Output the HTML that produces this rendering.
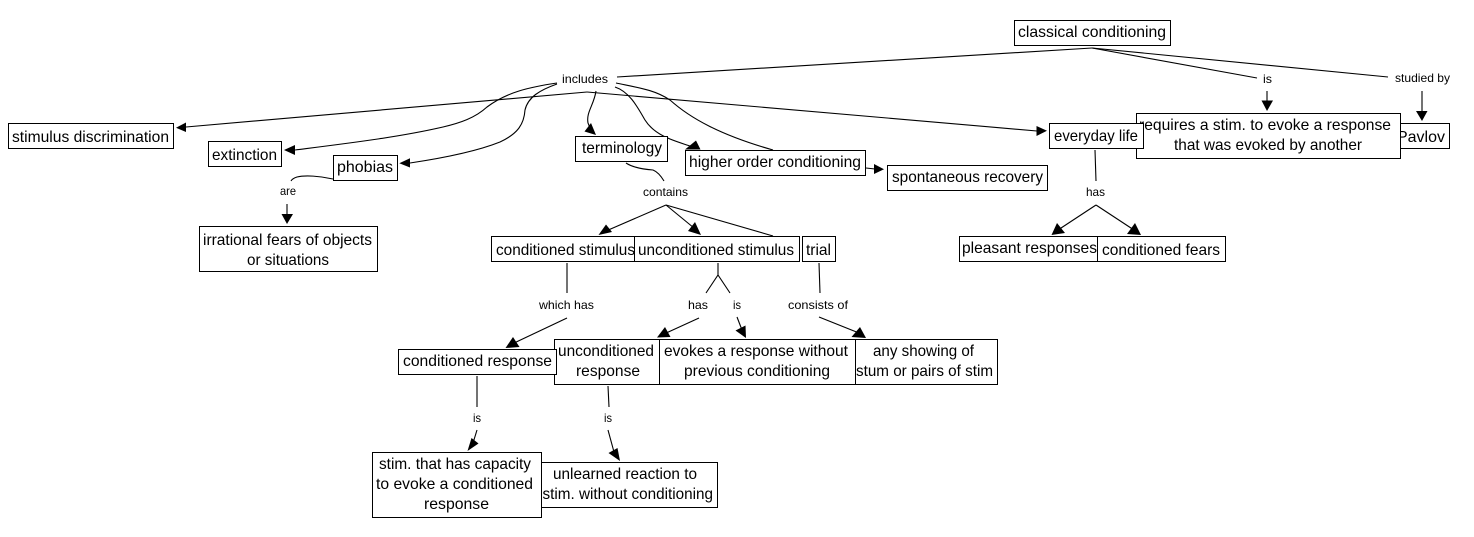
<!DOCTYPE html>
<html lang="en">
<head>
<meta charset="utf-8">
<title>Classical conditioning concept map</title>
<style>
html,body{margin:0;padding:0;background:#fff;width:1474px;height:537px;overflow:hidden}
svg{display:block}
text{font-family:"Liberation Sans",Arial,sans-serif;fill:#000}
.n{font-size:16px}
.l{font-size:12px}
.c{fill:none;stroke:#000;stroke-width:1.1}
.h{fill:#000;stroke:none}
.b{fill:#fff;stroke:#000;stroke-width:1;shape-rendering:crispEdges}
</style>
</head>
<body>
<svg xmlns="http://www.w3.org/2000/svg" width="1474" height="537" viewBox="0 0 1474 537">

<!-- connectors -->
<g class="c">
<path d="M617 77L1092 48"/>
<path d="M1092 48L1257 78"/>
<path d="M1092 48L1388 77"/>
<path d="M1267 91V102"/>
<path d="M1422 91V112"/>
<path d="M587 92L186 127"/>
<path d="M587 92L1037 131"/>
<path d="M557 83C530 87 507 92 487 107C475 118 460 123 443 127C400 137 350 143 295 150"/>
<path d="M557 84C540 90 528 97 525 110C524 125 517 134 500 142C480 150 450 157 410 163"/>
<path d="M596 91C594 105 586 112 588 123L590 128"/>
<path d="M615 87C630 92 638 108 645 120C655 136 675 141 690 146"/>
<path d="M616 83C640 88 655 90 670 100C690 118 720 135 773 150"/>
<path d="M866 168L875 169"/>
<path d="M333 179C320 176 305 175 297 177C294 178 292 179 291 181"/>
<path d="M287 204V215"/>
<path d="M626 163C632 167 640 169 653 170C658 172 661 176 664 181"/>
<path d="M666 205L606 231"/>
<path d="M666 205L694 228"/>
<path d="M666 205L773 236"/>
<path d="M1095 150L1096 181"/>
<path d="M1096 205L1058 230"/>
<path d="M1096 205L1134 230"/>
<path d="M567 263V293"/>
<path d="M567 318L512 344"/>
<path d="M718 263V275M706 293L718 275L730 293"/>
<path d="M699 318L664 334"/>
<path d="M737 317L742 330"/>
<path d="M819 317L859 333"/>
<path d="M819 263L820 293"/>
<path d="M477 376V407"/>
<path d="M477 430L473 443"/>
<path d="M608 386L609 407"/>
<path d="M608 430L614 452"/>
</g>

<!-- arrowheads -->
<g class="h">
<polygon points="1267,111 1261.5,100.5 1273,100.5"/>
<polygon points="1422,121 1416,111 1427.5,111"/>
<polygon points="176,127.7 186,122.5 186,132"/>
<polygon points="1047,130.7 1036.5,126 1036.5,136"/>
<polygon points="284,150 295,145 295,155"/>
<polygon points="399.3,163.3 410,158.3 410,167.5"/>
<polygon points="591,123 584.5,131.5 596,135"/>
<polygon points="696,140.5 685,149.5 700.5,149.5"/>
<polygon points="884,169.3 874,164 874,174"/>
<polygon points="287,224 281.5,214 293,214"/>
<polygon points="606,224.5 598.5,235 612,232"/>
<polygon points="695,222 688,231 701,235"/>
<polygon points="1057,223 1051.5,235 1065,233"/>
<polygon points="1135,223 1127,234 1141,235"/>
<polygon points="513,337 505.5,348 519.5,347"/>
<polygon points="665,327 657,337.5 670.5,337"/>
<polygon points="735.5,330.5 745.5,325.5 746,338"/>
<polygon points="860,327 851.5,337 866,338"/>
<polygon points="471.5,438 467.5,451 478.5,443.5"/>
<polygon points="617.5,448 608.5,453 620,461"/>
</g>

<!-- link labels -->
<g class="l">
<text x="562" y="83" textLength="46" lengthAdjust="spacingAndGlyphs">includes</text>
<text x="280" y="195" textLength="16" lengthAdjust="spacingAndGlyphs">are</text>
<text x="643" y="196" textLength="45" lengthAdjust="spacingAndGlyphs">contains</text>
<text x="1263" y="83" textLength="9" lengthAdjust="spacingAndGlyphs">is</text>
<text x="1395" y="82" textLength="55" lengthAdjust="spacingAndGlyphs">studied by</text>
<text x="1086" y="196" textLength="19" lengthAdjust="spacingAndGlyphs">has</text>
<text x="539" y="309" textLength="55" lengthAdjust="spacingAndGlyphs">which has</text>
<text x="688" y="309" textLength="20" lengthAdjust="spacingAndGlyphs">has</text>
<text x="733" y="309" textLength="8" lengthAdjust="spacingAndGlyphs">is</text>
<text x="788" y="309" textLength="60" lengthAdjust="spacingAndGlyphs">consists of</text>
<text x="473" y="422" textLength="8" lengthAdjust="spacingAndGlyphs">is</text>
<text x="604" y="422" textLength="8" lengthAdjust="spacingAndGlyphs">is</text>
</g>

<!-- nodes, back to front -->
<g class="n">
<rect class="b" x="1014.5" y="20.5" width="156" height="25"/>
<text x="1018" y="37" textLength="148" lengthAdjust="spacingAndGlyphs">classical conditioning</text>

<rect class="b" x="1380.5" y="123.5" width="69" height="25"/>
<text x="1397" y="142" textLength="48" lengthAdjust="spacingAndGlyphs">Pavlov</text>

<rect class="b" x="1136.5" y="113.5" width="264" height="45"/>
<text x="1139" y="130" textLength="252" lengthAdjust="spacingAndGlyphs">requires a stim. to evoke a response</text>
<text x="1174" y="150" textLength="188" lengthAdjust="spacingAndGlyphs">that was evoked by another</text>

<rect class="b" x="1049.5" y="123.5" width="94" height="25"/>
<text x="1054" y="141" textLength="84" lengthAdjust="spacingAndGlyphs">everyday life</text>

<rect class="b" x="8.5" y="123.5" width="165" height="25"/>
<text x="12" y="142" textLength="157" lengthAdjust="spacingAndGlyphs">stimulus discrimination</text>

<rect class="b" x="208.5" y="141.5" width="73" height="25"/>
<text x="212" y="160" textLength="65" lengthAdjust="spacingAndGlyphs">extinction</text>

<rect class="b" x="333.5" y="155.5" width="64" height="25"/>
<text x="337" y="172" textLength="56" lengthAdjust="spacingAndGlyphs">phobias</text>

<rect class="b" x="199.5" y="226.5" width="178" height="45"/>
<text x="203" y="245" textLength="169" lengthAdjust="spacingAndGlyphs">irrational fears of objects</text>
<text x="247" y="265" textLength="82" lengthAdjust="spacingAndGlyphs">or situations</text>

<rect class="b" x="575.5" y="136.5" width="92" height="25"/>
<text x="582" y="153" textLength="80" lengthAdjust="spacingAndGlyphs">terminology</text>

<rect class="b" x="887.5" y="165.5" width="160" height="25"/>
<text x="892" y="182" textLength="151" lengthAdjust="spacingAndGlyphs">spontaneous recovery</text>

<rect class="b" x="685.5" y="150.5" width="180" height="25"/>
<text x="689" y="167" textLength="172" lengthAdjust="spacingAndGlyphs">higher order conditioning</text>

<rect class="b" x="491.5" y="236.5" width="144" height="25"/>
<text x="496" y="255" textLength="139" lengthAdjust="spacingAndGlyphs">conditioned stimulus</text>

<rect class="b" x="634.5" y="236.5" width="165" height="25"/>
<text x="638" y="255" textLength="156" lengthAdjust="spacingAndGlyphs">unconditioned stimulus</text>

<rect class="b" x="802.5" y="236.5" width="33" height="25"/>
<text x="806" y="255" textLength="25" lengthAdjust="spacingAndGlyphs">trial</text>

<rect class="b" x="959.5" y="236.5" width="138" height="25"/>
<text x="962" y="253" textLength="135" lengthAdjust="spacingAndGlyphs">pleasant responses</text>

<rect class="b" x="1097.5" y="236.5" width="128" height="25"/>
<text x="1102" y="255" textLength="118" lengthAdjust="spacingAndGlyphs">conditioned fears</text>

<rect class="b" x="554.5" y="339.5" width="105" height="45"/>
<text x="558" y="356" textLength="96" lengthAdjust="spacingAndGlyphs">unconditioned</text>
<text x="576" y="376" textLength="64" lengthAdjust="spacingAndGlyphs">response</text>

<rect class="b" x="398.5" y="349.5" width="158" height="25"/>
<text x="403" y="366" textLength="149" lengthAdjust="spacingAndGlyphs">conditioned response</text>

<rect class="b" x="659.5" y="339.5" width="196" height="45"/>
<text x="664" y="356" textLength="184" lengthAdjust="spacingAndGlyphs">evokes a response without</text>
<text x="684" y="376" textLength="146" lengthAdjust="spacingAndGlyphs">previous conditioning</text>

<rect class="b" x="855.5" y="339.5" width="142" height="45"/>
<text x="873" y="356" textLength="101" lengthAdjust="spacingAndGlyphs">any showing of</text>
<text x="856" y="376" textLength="137" lengthAdjust="spacingAndGlyphs">stum or pairs of stim</text>

<rect class="b" x="530.5" y="462.5" width="187" height="45"/>
<text x="553" y="479" textLength="144" lengthAdjust="spacingAndGlyphs">unlearned reaction to</text>
<text x="542.5" y="499" textLength="170.5" lengthAdjust="spacingAndGlyphs">stim. without conditioning</text>

<rect class="b" x="372.5" y="452.5" width="169" height="65"/>
<text x="379" y="469" textLength="152" lengthAdjust="spacingAndGlyphs">stim. that has capacity</text>
<text x="376" y="489" textLength="157" lengthAdjust="spacingAndGlyphs">to evoke a conditioned</text>
<text x="424" y="509" textLength="65" lengthAdjust="spacingAndGlyphs">response</text>
</g>
</svg>
</body>
</html>
